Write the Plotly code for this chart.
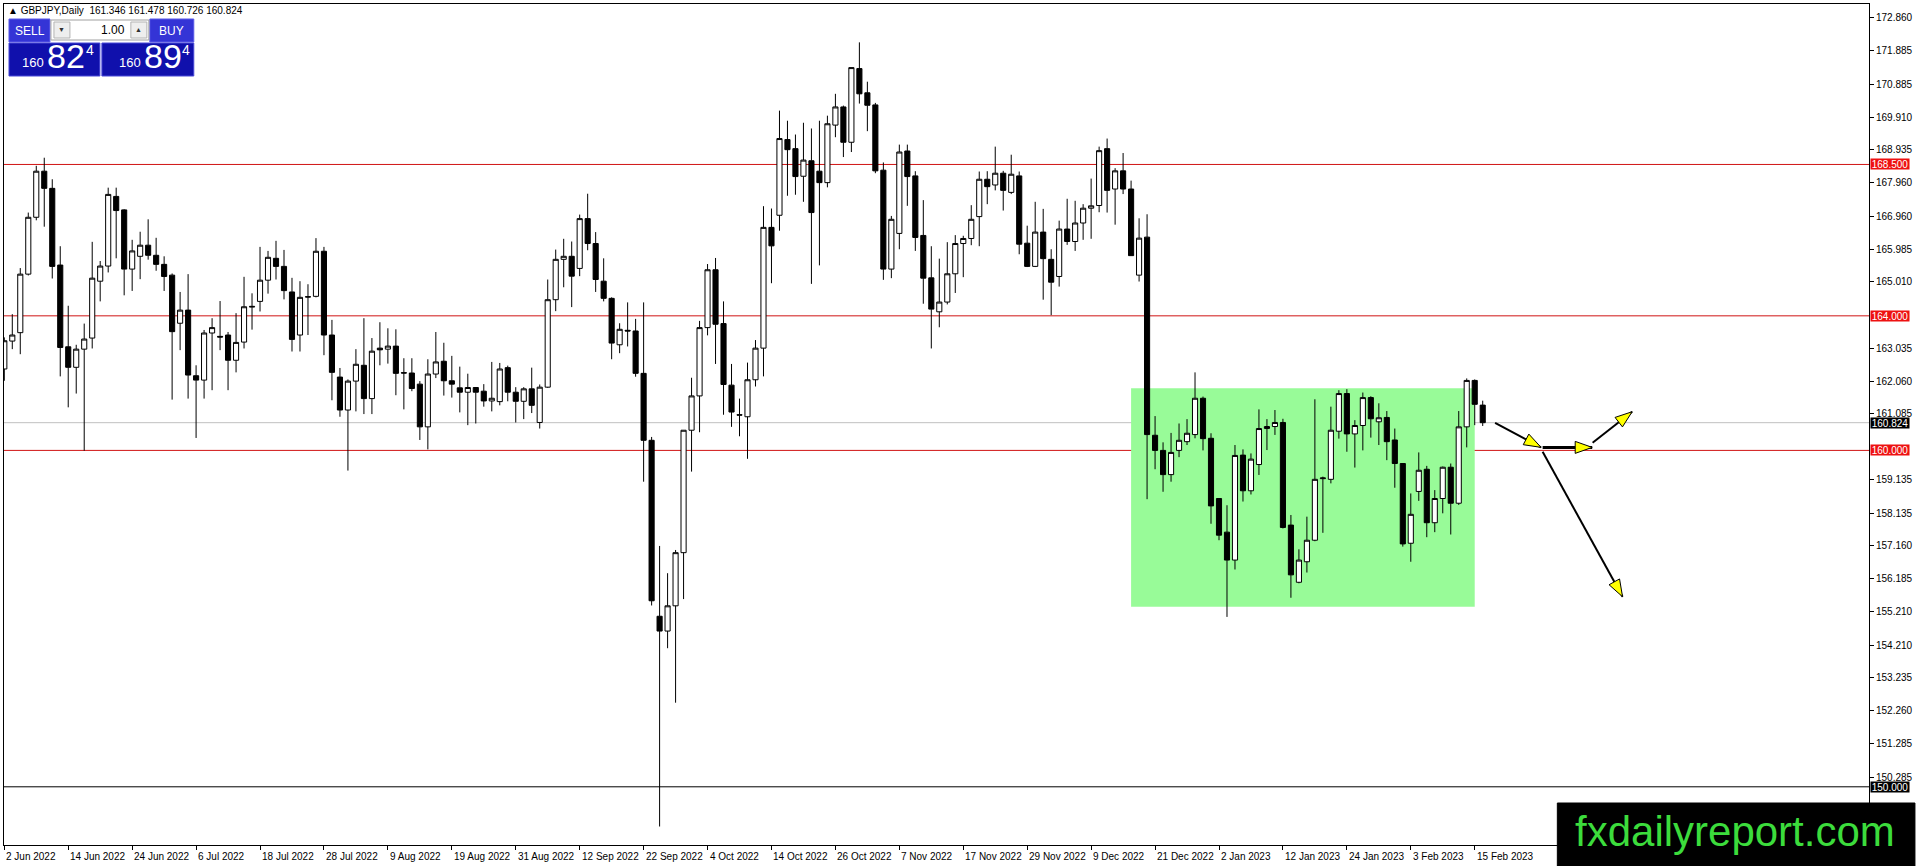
import math

import plotly.graph_objects as go

# GBPJPY daily candles, 2 Jun 2022 .. 16 Feb 2023 (one entry per trading day)
OPEN = [
    162.42, 163.25, 163.50, 165.24, 166.93, 168.30, 167.79, 165.51, 163.08, 162.47,
    163.01, 163.34, 165.03, 165.48, 167.55, 167.15, 165.39, 165.77, 166.10, 165.80,
    165.53, 165.21, 163.78, 164.17, 162.22, 162.09, 163.49, 163.39, 163.43, 162.68,
    163.22, 164.26, 164.43, 165.06, 165.71, 165.47, 164.71, 163.43, 164.57, 164.58,
    165.92, 163.43, 162.18, 161.20, 162.06, 162.53, 161.54, 163.04, 163.01, 163.10,
    162.31, 162.30, 161.97, 160.70, 162.27, 162.65, 162.07, 161.86, 161.73, 161.87,
    161.76, 161.47, 161.45, 162.46, 161.73, 161.46, 161.83, 160.83, 161.88, 164.48,
    165.68, 165.77, 165.41, 166.89, 166.15, 165.03, 164.52, 163.14, 163.57, 163.55,
    162.29, 160.30, 155.07, 154.63, 155.38, 156.96, 160.60, 161.62, 163.65, 165.37,
    163.77, 161.94, 161.06, 161.00, 162.10, 163.04, 166.63, 166.99, 169.24, 168.97,
    168.15, 168.61, 168.30, 167.96, 169.67, 170.21, 169.16, 171.35, 170.63, 170.27,
    168.33, 165.39, 166.45, 168.90, 168.16, 166.39, 165.13, 164.12, 164.41, 165.25,
    166.15, 166.30, 166.95, 168.06, 167.89, 168.24, 167.67, 168.16, 166.16, 165.47,
    166.49, 165.68, 165.17, 166.58, 166.21, 166.76, 167.20, 167.28, 168.97, 167.77,
    168.31, 167.77, 165.21, 166.34, 160.45, 160.00, 159.28, 160.00, 160.26, 160.47,
    161.55, 160.36, 158.57, 157.57, 156.74, 159.86, 158.80, 159.58, 160.65, 160.71,
    160.83, 157.78, 156.08, 156.69, 157.33, 159.16, 159.14, 160.57, 161.69, 160.49,
    160.74, 161.57, 160.85, 160.98, 160.31, 159.61, 157.24, 158.78, 159.44, 157.85,
    158.57, 159.50, 158.43, 160.70, 162.08, 161.346,
]
HIGH = [
    163.36, 164.05, 165.42, 167.07, 168.46, 168.70, 168.06, 166.07, 164.30, 163.14,
    163.77, 166.20, 165.63, 167.81, 167.81, 167.17, 166.26, 166.50, 166.87, 166.32,
    165.77, 165.26, 164.71, 165.24, 162.53, 163.58, 163.93, 164.44, 163.52, 164.08,
    165.16, 164.67, 166.05, 165.93, 166.23, 165.96, 165.13, 165.03, 164.94, 166.31,
    166.05, 163.88, 162.45, 162.11, 163.01, 163.93, 163.34, 163.81, 163.63, 163.60,
    162.74, 162.74, 162.06, 162.71, 163.52, 163.20, 162.81, 162.49, 162.28, 161.88,
    161.97, 162.63, 162.60, 162.52, 161.88, 161.88, 162.46, 161.96, 165.08, 165.97,
    166.29, 166.21, 167.01, 167.63, 166.49, 165.71, 164.55, 163.78, 164.40, 163.91,
    164.40, 160.40, 157.16, 156.35, 157.04, 160.60, 162.16, 163.85, 165.54, 165.72,
    164.43, 162.57, 161.54, 162.61, 163.28, 167.26, 167.19, 170.10, 169.80, 169.39,
    169.74, 169.57, 169.80, 169.95, 170.60, 170.25, 171.38, 172.13, 170.96, 170.33,
    168.56, 166.97, 169.09, 169.09, 168.30, 167.44, 166.07, 165.70, 166.19, 166.40,
    166.38, 167.29, 168.29, 168.30, 169.03, 168.31, 168.79, 168.29, 166.68, 167.39,
    167.18, 165.98, 166.83, 167.48, 167.42, 167.32, 168.08, 169.03, 169.27, 168.39,
    168.84, 168.02, 166.90, 167.02, 161.02, 160.24, 160.52, 160.80, 160.93, 162.32,
    161.60, 160.51, 158.57, 158.37, 160.16, 160.03, 159.91, 161.22, 160.93, 161.20,
    160.94, 158.08, 157.06, 158.03, 161.52, 159.22, 161.30, 161.79, 161.82, 160.90,
    161.72, 161.61, 161.40, 161.17, 160.65, 159.62, 158.72, 159.94, 159.54, 158.82,
    159.52, 159.61, 161.17, 162.14, 162.11, 161.478,
]
LOW = [
    162.07, 163.01, 162.86, 165.20, 166.84, 166.65, 165.11, 162.20, 161.28, 161.69,
    159.99, 163.03, 164.43, 165.29, 165.71, 164.61, 164.74, 165.09, 165.67, 165.34,
    164.74, 161.51, 162.98, 161.54, 160.37, 161.54, 161.79, 162.98, 161.79, 162.32,
    163.03, 163.59, 164.13, 164.66, 165.08, 164.49, 162.94, 162.94, 163.43, 164.55,
    162.83, 161.49, 161.00, 159.40, 161.16, 161.08, 161.08, 162.53, 162.58, 161.64,
    161.22, 161.76, 160.31, 160.03, 162.15, 161.63, 161.57, 161.13, 160.75, 160.80,
    161.30, 161.16, 161.34, 161.46, 160.83, 160.93, 161.11, 160.65, 161.86, 164.14,
    164.85, 164.26, 165.18, 165.95, 164.71, 164.43, 162.71, 162.89, 163.09, 162.19,
    159.07, 155.39, 148.82, 154.12, 152.50, 155.58, 159.37, 160.54, 163.42, 162.57,
    161.06, 160.70, 160.42, 159.75, 161.90, 162.20, 164.97, 166.53, 167.57, 167.60,
    167.39, 164.95, 165.50, 167.82, 169.31, 168.72, 168.87, 170.31, 169.49, 168.24,
    165.07, 165.12, 165.98, 167.27, 165.93, 164.36, 163.03, 163.66, 164.34, 164.68,
    165.15, 166.10, 166.07, 167.32, 167.73, 167.13, 167.62, 165.83, 165.45, 165.45,
    164.48, 164.02, 164.87, 166.11, 165.93, 166.26, 166.29, 167.08, 167.07, 166.71,
    167.62, 165.79, 165.02, 158.55, 159.44, 158.77, 159.07, 159.80, 160.16, 160.36,
    160.00, 157.82, 157.33, 155.05, 156.46, 158.48, 158.69, 159.27, 160.01, 160.46,
    157.68, 155.62, 156.05, 156.37, 157.30, 157.55, 159.02, 160.35, 159.96, 159.49,
    160.00, 160.38, 160.16, 159.71, 158.89, 157.14, 156.69, 158.50, 157.42, 157.57,
    158.13, 157.50, 158.38, 160.09, 160.75, 160.726,
]
CLOSE = [
    163.26, 163.43, 165.24, 166.93, 168.30, 167.79, 165.47, 163.06, 162.47, 163.01,
    163.31, 165.12, 165.48, 167.61, 167.13, 165.39, 165.93, 166.10, 165.80, 165.53,
    165.17, 163.53, 164.17, 162.24, 162.09, 163.49, 163.65, 163.37, 162.68, 163.21,
    164.27, 164.28, 165.06, 165.74, 165.47, 164.75, 163.30, 164.55, 164.56, 165.92,
    163.43, 162.32, 161.20, 162.06, 162.56, 161.54, 162.95, 162.99, 163.10, 162.29,
    162.30, 161.84, 160.70, 162.27, 162.63, 162.07, 161.97, 161.73, 161.87, 161.73,
    161.47, 161.55, 162.42, 161.73, 161.46, 161.83, 161.34, 161.88, 164.48, 165.68,
    165.77, 165.18, 166.89, 166.15, 165.08, 164.52, 163.19, 163.60, 163.55, 162.29,
    160.30, 155.53, 154.63, 155.38, 156.96, 160.60, 161.62, 163.65, 165.37, 163.75,
    161.96, 161.14, 161.05, 162.10, 163.04, 166.63, 166.08, 169.27, 168.94, 168.14,
    168.63, 167.07, 167.96, 169.71, 170.21, 169.16, 171.38, 170.60, 170.26, 168.31,
    165.39, 166.87, 168.87, 168.14, 166.33, 165.12, 164.20, 164.41, 165.25, 166.15,
    166.30, 166.87, 168.06, 167.84, 168.24, 167.73, 168.21, 166.13, 165.47, 166.49,
    165.70, 165.00, 166.58, 166.21, 166.76, 167.20, 167.27, 168.91, 167.73, 168.31,
    167.77, 165.79, 166.31, 160.47, 160.00, 159.28, 159.94, 160.30, 160.51, 161.55,
    160.35, 158.35, 157.48, 156.74, 159.85, 158.80, 159.74, 160.65, 160.71, 160.83,
    157.71, 156.30, 156.74, 157.33, 159.14, 159.18, 160.60, 161.69, 160.49, 160.74,
    161.57, 160.94, 160.97, 160.26, 159.61, 157.22, 158.10, 159.41, 157.85, 158.57,
    159.50, 158.43, 160.70, 162.08, 161.37, 160.824,
]

# x-axis date labels, one every 8 bars
DATE_LABELS = [
    "2 Jun 2022", "14 Jun 2022", "24 Jun 2022", "6 Jul 2022", "18 Jul 2022", "28 Jul 2022",
    "9 Aug 2022", "19 Aug 2022", "31 Aug 2022", "12 Sep 2022", "22 Sep 2022", "4 Oct 2022",
    "14 Oct 2022", "26 Oct 2022", "7 Nov 2022", "17 Nov 2022", "29 Nov 2022", "9 Dec 2022",
    "21 Dec 2022", "2 Jan 2023", "12 Jan 2023", "24 Jan 2023", "3 Feb 2023", "15 Feb 2023",
]
DATE_STEP = 8

PRICE_TICKS = [
    172.860, 171.885, 170.885, 169.910, 168.935, 167.960, 166.960, 165.985, 165.010,
    163.035, 162.060, 161.085, 159.135, 158.135, 157.160, 156.185, 155.210, 154.210,
    153.235, 152.260, 151.285, 150.285,
]

RED_LEVELS = [168.5, 164.0, 160.0]
BLACK_LEVEL = 150.0
LAST_PRICE = 160.824

# consolidation box (bar index range, price range)
BOX_BARS = [141, 184]
BOX_PRICES = [155.35, 161.85]

# drawn arrows: (start bar, start price, end bar, end price, width)
ARROWS = [
    (186.55, 160.82, 192.3, 160.09, 2),
    (192.5, 160.09, 198.7, 160.09, 3),
    (198.75, 160.23, 203.7, 161.15, 2),
    (192.5, 159.96, 202.5, 155.65, 2),
]

W, H = 1916, 866
PL, PR, PT, PB = 3, 1870, 4, 845
X_RANGE = [(PL - 3.3) / 8, (PR - 3.3) / 8]
Y_RANGE = [148.27, 173.27]
PX_PER_BAR = (PR - PL) / (X_RANGE[1] - X_RANGE[0])
PX_PER_PRICE = (PB - PT) / (Y_RANGE[1] - Y_RANGE[0])
FONT = "Liberation Sans"


def fx(px):
    return (px - PL) / (PR - PL)


def fy(py):
    return 1 - (py - PT) / (PB - PT)


def arrow_head(x0, y0, x1, y1, length=17, half=6):
    dx = (x1 - x0) * PX_PER_BAR
    dy = (y1 - y0) * PX_PER_PRICE
    n = math.hypot(dx, dy)
    ux, uy = dx / n, dy / n
    bx, by = -ux * length, -uy * length
    nx, ny = -uy * half, ux * half
    path = f"M 0,0 L {bx + nx:.1f},{by + ny:.1f} L {bx - nx:.1f},{by - ny:.1f} Z"
    return dict(type="path", xref="x", yref="y", xsizemode="pixel", ysizemode="pixel",
                xanchor=x1, yanchor=y1, path=path, fillcolor="#ffff00",
                line=dict(color="black", width=1), layer="above")


def rect_px(x0, y0, x1, y1, fill, line=None):
    return dict(type="rect", xref="paper", yref="paper", x0=fx(x0), x1=fx(x1), y0=fy(y1), y1=fy(y0),
                fillcolor=fill, line=dict(color=line or fill, width=1), layer="above")


def text_px(x, y, text, size, color="white", anchor="left"):
    return dict(xref="paper", yref="paper", x=fx(x), y=fy(y), text=text, showarrow=False,
                xanchor=anchor, yanchor="middle", font=dict(family=FONT, size=size, color=color))


bars = list(range(len(OPEN)))

fig = go.Figure()
fig.add_trace(
    go.Candlestick(
        x=bars, open=OPEN, high=HIGH, low=LOW, close=CLOSE,
        increasing=dict(line=dict(color="black", width=1), fillcolor="white"),
        decreasing=dict(line=dict(color="black", width=1), fillcolor="black"),
        whiskerwidth=0, hoverinfo="skip", showlegend=False,
    )
)

shapes = [
    dict(type="rect", xref="x", yref="y", x0=BOX_BARS[0], x1=BOX_BARS[1], y0=BOX_PRICES[0], y1=BOX_PRICES[1],
         fillcolor="#98fb98", line=dict(width=0), layer="below"),
    dict(type="line", xref="paper", yref="y", x0=0, x1=1, y0=LAST_PRICE, y1=LAST_PRICE,
         line=dict(color="#c0c0c0", width=1), layer="below"),
    dict(type="line", xref="paper", yref="y", x0=0, x1=1, y0=BLACK_LEVEL, y1=BLACK_LEVEL,
         line=dict(color="black", width=1), layer="below"),
]
for lvl in RED_LEVELS:
    shapes.append(dict(type="line", xref="paper", yref="y", x0=0, x1=1, y0=lvl, y1=lvl,
                       line=dict(color="#d01414", width=1), layer="below"))

for x0, y0, x1, y1, w in ARROWS:
    shapes.append(dict(type="line", xref="x", yref="y", x0=x0, y0=y0, x1=x1, y1=y1,
                       line=dict(color="black", width=w), layer="above"))
    shapes.append(arrow_head(x0, y0, x1, y1))

# one-click trading panel
shapes += [
    rect_px(8, 19, 49, 42, "#3434d6", "#5a5ae8"),
    rect_px(149, 19, 193, 42, "#3434d6", "#5a5ae8"),
    rect_px(50, 20, 148, 40, "white", "#a0a0a0"),
    rect_px(53, 22, 69, 38, "#eeeeee", "#b4b4b4"),
    rect_px(130, 22, 146, 38, "#eeeeee", "#b4b4b4"),
    rect_px(8, 43, 99, 76, "#1010ac", "#4848d8"),
    rect_px(101, 43, 193, 76, "#1010ac", "#4848d8"),
    # watermark box
    rect_px(1558, 803, 1916, 866, "black"),
]

annotations = [
    text_px(5, 10, "▲ GBPJPY,Daily  161.346 161.478 160.726 160.824", 10, "black"),
    text_px(29, 31, "SELL", 12, anchor="center"),
    text_px(171, 31, "BUY", 12, anchor="center"),
    text_px(61, 30, "▼", 7, "#303030", anchor="center"),
    text_px(138, 30, "▲", 7, "#303030", anchor="center"),
    text_px(126, 30, "1.00", 12, "black", anchor="right"),
    text_px(19, 62, "160", 13),
    text_px(44, 56, "82", 34),
    text_px(83, 50, "4", 14),
    text_px(116, 62, "160", 13),
    text_px(141, 56, "89", 34),
    text_px(179, 50, "4", 14),
    text_px(1736, 831, "fxdailyreport.com", 42, "#3cdc3c", anchor="center"),
]

# date labels start at their bar, MT4 style
for k, label in enumerate(DATE_LABELS):
    annotations.append(dict(xref="x", yref="paper", x=k * DATE_STEP, y=0, yshift=-4, text=label,
                            showarrow=False, xanchor="left", yanchor="top",
                            font=dict(family=FONT, size=10, color="black")))

# price tags on the right axis
tags = [(lvl, "#ee1111") for lvl in RED_LEVELS] + [(LAST_PRICE, "black"), (BLACK_LEVEL, "black")]
for lvl, col in tags:
    annotations.append(dict(xref="paper", yref="y", x=1, y=lvl, xshift=1, text=f"{lvl:.3f}",
                            showarrow=False, xanchor="left", yanchor="middle", bgcolor=col,
                            width=38, height=10, borderpad=0, align="center",
                            font=dict(family=FONT, size=10, color="white")))

fig.update_layout(
    width=W, height=H,
    margin=dict(l=PL, r=W - PR, t=PT, b=H - PB),
    paper_bgcolor="white", plot_bgcolor="white",
    boxgap=0.2, boxgroupgap=0.2,
    shapes=shapes, annotations=annotations,
    font=dict(family=FONT, size=10, color="black"),
    showlegend=False,
)
fig.update_xaxes(
    range=X_RANGE, rangeslider_visible=False, showgrid=False, zeroline=False,
    showline=True, linecolor="black", linewidth=1, mirror=True,
    tickmode="array", tickvals=[k * DATE_STEP for k in range(len(DATE_LABELS))],
    showticklabels=False, ticks="outside", ticklen=4, tickcolor="black",
)
fig.update_yaxes(
    range=Y_RANGE, side="right", showgrid=False, zeroline=False,
    showline=True, linecolor="black", linewidth=1, mirror=True,
    tickmode="array", tickvals=PRICE_TICKS, ticktext=[f"{v:.3f}" for v in PRICE_TICKS],
    ticks="outside", ticklen=4, tickcolor="black", tickfont=dict(family=FONT, size=10),
)

fig.write_html(
    "out.html",
    config={"displayModeBar": False},
    post_script="document.body.style.margin='0';document.body.style.overflow='hidden';",
)
